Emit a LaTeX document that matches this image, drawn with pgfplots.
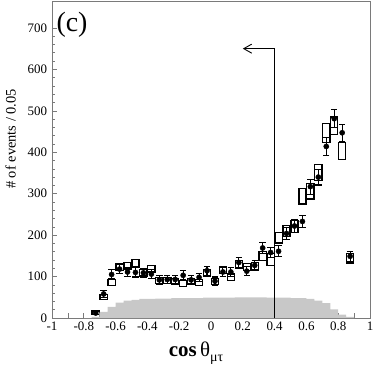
\documentclass[border=0pt]{standalone}
\usepackage{fontspec}
\setmainfont{Liberation Serif}
\usepackage{pgfplots}
\pgfplotsset{compat=1.18}
\usepackage{pgfplotstable}
\usetikzlibrary{arrows.meta}
\definecolor{mcgray}{HTML}{C8C8C8}
\definecolor{framec}{HTML}{7A7A7A}

% boxes: centre and half height
\pgfplotstableread{
x      c    h
-0.725  13   4
-0.675  50   6
-0.625  86   7
-0.575 123   8
-0.525 126   8
-0.475 132   9
-0.425 109   8
-0.375 119   8
-0.325  90   7
-0.275  91   7
-0.225  88   7
-0.175  83   7
-0.125  89   7
-0.075  86   7
-0.025 109   8
 0.025  88   7
 0.075 115   8
 0.125  98   8
 0.175 129   9
 0.225 123   9
 0.275 125   9
 0.325 149  11
 0.375 141  14
 0.425 194  13
 0.475 210  13
 0.525 221  14
 0.575 294  19
 0.625 306  19
 0.675 351  19
 0.725 447  23
 0.775 464  21
 0.825 403  21
 0.875 144  11
}\boxtab

% data points with errors
\pgfplotstableread{
x      y    e
-0.725  12   4
-0.675  58   8
-0.625 105  11
-0.575 118  11
-0.525 111  11
-0.475 110  11
-0.425 109  11
-0.375 106  11
-0.325  92  10
-0.275  93  10
-0.225  93  10
-0.175 103  11
-0.125  92  10
-0.075  98  10
-0.025 114  11
 0.025  89  10
 0.075 111  11
 0.125 111  11
 0.175 134  12
 0.225 113  11
 0.275 127  12
 0.325 169  13
 0.375 158  13
 0.425 161  13
 0.475 204  15
 0.525 222  15
 0.575 233  15
 0.625 317  18
 0.675 340  19
 0.725 414  21
 0.775 481  22
 0.825 447  21
 0.875 149  12
}\datatab

\pgfplotsset{
  common/.style={
    at={(0,0)}, anchor=south west,
    scale only axis, width=318bp, height=317bp,
    xmin=-1, xmax=1, ymin=0, ymax=765,
  },
}

\begin{document}
\begin{tikzpicture}
\path[use as bounding box] (-52bp,-52bp) rectangle (322bp,318bp);

% floating boxes (stacked: invisible base + box)
\begin{axis}[common, hide axis, ybar stacked, bar width=0.045]
\addplot[draw=none, fill=none] table[x=x, y expr=\thisrow{c}-\thisrow{h}] {\boxtab};
\addplot[draw=black, fill=white, line width=1.3bp] table[x=x, y expr=2*\thisrow{h}] {\boxtab};
\end{axis}

\begin{axis}[common,
  axis line style={draw=framec, line width=0.8bp},
  tick align=inside, xtick pos=bottom, ytick pos=left,
  tick style={draw=framec, line width=0.6bp},
  major tick length=5.5bp, minor tick length=3.5bp,
  xtick={-1,-0.9,-0.8,-0.7,-0.6,-0.5,-0.4,-0.3,-0.2,-0.1,0,0.1,0.2,0.3,0.4,0.5,0.6,0.7,0.8,0.9,1},
  xticklabels={-1,,-0.8,,-0.6,,-0.4,,-0.2,,0,,0.2,,0.4,,0.6,,0.8,,1},
  ytick={0,100,...,700}, minor y tick num=4,
  ticklabel style={font=\fontsize{13}{15}\selectfont},
  /pgf/number format/assume math mode=true,
  xticklabel style={yshift=-0.5bp},
  yticklabel style={xshift=-1.5bp},
  clip=false,
]
\addplot[fill=mcgray, draw=none, const plot mark left] coordinates {
(-0.80,0) (-0.75,3) (-0.70,15) (-0.65,27) (-0.60,37) (-0.55,42) (-0.50,44)
(-0.45,46) (-0.40,46) (-0.35,47) (-0.30,47) (-0.25,48) (-0.20,48) (-0.15,48)
(-0.10,48) (-0.05,49) (0.00,49) (0.05,49) (0.10,49) (0.15,50) (0.20,50)
(0.25,50) (0.30,50) (0.35,49) (0.40,49) (0.45,49) (0.50,48) (0.55,48)
(0.60,46) (0.65,42) (0.70,36) (0.75,21) (0.80,8) (0.85,3) (0.90,0)
} \closedcycle;

\addplot[only marks, mark=*, mark size=2.6bp, black,
  error bars/.cd, y dir=both, y explicit,
  error bar style={line width=1.1bp, black},
  error mark options={rotate=90, mark size=3.2bp, line width=1.1bp}]
  table[x=x, y=y, y error=e] {\datatab};

\draw[black, line width=0.9bp] (axis cs:0.4,0) -- (axis cs:0.4,650);
\draw[black, line width=0.9bp, -{Straight Barb[length=8bp, width=9bp]}]
  (axis cs:0.4,650) -- (axis cs:0.2,650);

\node[font=\fontsize{28}{30}\selectfont] at (axis description cs:0.063,0.925) {(c)};
\node[rotate=90, font=\fontsize{14.5}{16}\selectfont] at (axis description cs:-0.130,0.565) {\# of events / 0.05};
\node[anchor=base, font=\fontsize{21}{23}\selectfont] at (axis description cs:0.453,-0.123)
  {\textbf{cos}\,θ\raisebox{-5bp}{\fontsize{14}{14}\selectfont μτ}};
\end{axis}
\end{tikzpicture}
\end{document}
